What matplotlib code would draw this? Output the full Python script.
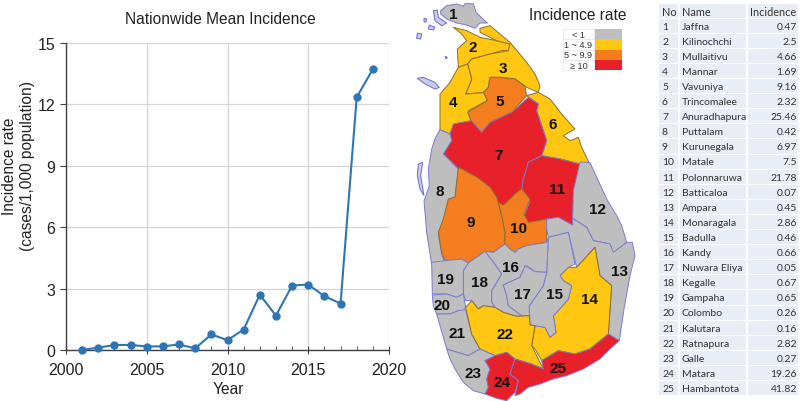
import matplotlib
matplotlib.use('Agg')
import matplotlib.pyplot as plt
from matplotlib.patches import Polygon, Rectangle

years = [2001, 2002, 2003, 2004, 2005, 2006, 2007, 2008, 2009, 2010,
         2011, 2012, 2013, 2014, 2015, 2016, 2017, 2018, 2019]
mean_incidence = [0.0, 0.12, 0.24, 0.25, 0.17, 0.18, 0.27, 0.08, 0.76, 0.48,
                  1.0, 2.7, 1.68, 3.15, 3.2, 2.63, 2.27, 12.35, 13.72]

names = ['Jaffna', 'Kilinochchi', 'Mullaitivu', 'Mannar', 'Vavuniya', 'Trincomalee',
         'Anuradhapura', 'Puttalam', 'Kurunegala', 'Matale', 'Polonnaruwa', 'Batticaloa',
         'Ampara', 'Monaragala', 'Badulla', 'Kandy', 'Nuwara Eliya', 'Kegalle', 'Gampaha',
         'Colombo', 'Kalutara', 'Ratnapura', 'Galle', 'Matara', 'Hambantota']
incidence = ['0.47', '2.5', '4.66', '1.69', '9.16', '2.32', '25.46', '0.42', '6.97', '7.5',
             '21.78', '0.07', '0.45', '2.86', '0.46', '0.66', '0.05', '0.67', '0.65', '0.26',
             '0.16', '2.82', '0.27', '19.26', '41.82']

legend_labels = ['< 1', '1 ~ 4.9', '5 ~ 9.9', '≥ 10']
legend_colors = ['#BEBEBE', '#FFC612', '#F47D20', '#E8202A']

# district outlines at 3x (first lot y from 0, second lot y from 200)
top = {
    1: [(122, 35), (140, 20), (170, 15), (190, 22), (195, 14), (220, 14), (228, 40), (262, 72), (240, 72), (225, 88),
        (200, 78), (170, 72), (140, 60), (122, 45)],
    2: [(160, 85), (200, 95), (240, 115), (290, 125), (330, 135), (325, 155), (305, 155), (270, 165), (215, 180),
        (205, 195), (175, 205), (172, 150), (200, 125), (185, 105)],
    3: [(240, 88), (270, 80), (330, 130), (380, 190), (405, 225), (420, 260), (415, 280), (380, 265), (345, 240),
        (300, 235), (270, 235), (262, 280), (197, 285), (215, 240), (203, 195), (215, 180), (270, 165), (325, 155),
        (330, 135), (290, 125), (240, 100)],
    4: [(203, 195), (215, 240), (197, 285), (262, 280), (262, 305), (205, 335), (215, 365), (165, 375), (150, 405),
        (120, 392), (120, 285), (150, 250), (175, 205)],
    5: [(270, 235), (300, 235), (345, 240), (375, 262), (380, 290), (335, 340), (270, 370), (245, 400), (220, 385),
        (203, 340), (262, 305), (250, 280), (265, 265)],
    6: [(380, 290), (415, 280), (450, 300), (485, 345), (525, 390), (490, 410), (510, 425), (535, 415), (545, 445),
        (570, 497), (540, 495), (480, 480), (425, 470), (440, 425), (410, 335), (415, 315)],
    7: [(385, 295), (415, 315), (410, 335), (440, 425), (425, 470), (385, 490), (370, 540), (365, 575), (345, 590),
        (330, 606), (320, 618), (300, 620), (290, 600), (270, 570), (230, 540), (175, 510), (130, 465), (160, 375),
        (215, 365), (245, 400), (270, 370), (335, 340)],
    8: [(120, 392), (150, 405), (155, 425), (130, 465), (175, 510), (165, 600), (145, 606), (130, 666), (115, 706),
        (125, 766), (135, 791), (95, 796), (80, 700), (72, 606), (88, 560), (85, 510), (95, 450), (105, 420)],
    11: [(425, 470), (480, 480), (540, 495), (535, 550), (520, 606), (518, 684), (475, 661), (440, 666), (385, 676),
         (372, 651), (390, 606), (365, 575), (370, 540), (385, 490)],
}
bottom = {
    9: [(145, 0), (165, -6), (175, -96), (230, -66), (270, -36), (290, -6), (295, 10), (305, 50), (315, 100),
        (315, 135), (280, 160), (255, 157), (205, 192), (185, 180), (135, 185), (125, 160), (115, 100), (130, 60)],
    10: [(295, 10), (310, 18), (330, 0), (345, -16), (365, -31), (390, 0), (372, 45), (385, 70), (440, 60), (440, 130),
         (380, 140), (355, 150), (345, 160), (330, 150), (315, 135), (315, 100), (305, 50)],
    12: [(520, -25), (540, -111), (570, -109), (620, 0), (650, 50), (665, 80), (680, 130), (640, 165), (630, 135),
         (580, 125), (560, 85), (518, 58)],
    13: [(518, 58), (560, 85), (580, 125), (630, 135), (640, 160), (680, 130), (697, 130), (705, 170), (690, 230),
         (672, 330), (658, 425), (625, 405), (635, 260), (600, 230), (585, 145), (530, 205), (505, 100), (445, 115),
         (440, 90), (440, 60), (475, 55), (518, 78)],
    14: [(585, 145), (600, 230), (635, 260), (625, 405), (570, 450), (525, 465), (475, 455), (425, 485), (405, 450),
         (395, 440), (405, 380), (435, 385), (450, 415), (468, 400), (460, 350), (470, 340), (505, 300), (515, 260),
         (490, 245), (480, 230), (505, 205), (530, 205)],
    15: [(445, 115), (505, 100), (525, 195), (505, 205), (480, 230), (490, 245), (515, 260), (505, 300), (470, 340),
         (460, 350), (468, 400), (450, 415), (435, 385), (390, 378), (388, 320), (430, 260), (440, 220)],
    16: [(255, 157), (280, 160), (315, 135), (330, 150), (345, 160), (355, 150), (380, 140), (440, 130), (445, 115),
         (440, 220), (405, 218), (380, 200), (370, 215), (360, 235), (310, 258), (320, 290), (325, 320), (345, 335),
         (365, 350), (350, 352), (310, 340), (285, 325), (275, 310), (275, 275), (305, 225), (280, 190)],
    17: [(375, 200), (405, 218), (440, 220), (430, 260), (388, 320), (388, 350), (365, 350), (345, 335), (325, 320),
         (320, 290), (310, 258), (360, 235)],
    18: [(190, 215), (205, 192), (255, 157), (280, 190), (305, 225), (275, 275), (275, 310), (285, 325), (250, 320),
         (235, 330), (215, 305), (197, 305), (190, 285)],
    19: [(95, 190), (135, 185), (185, 180), (205, 192), (190, 215), (190, 285), (170, 295), (140, 285), (97, 285)],
    20: [(97, 288), (140, 285), (170, 295), (190, 285), (197, 325), (190, 340), (175, 335), (150, 345), (110, 345),
         (100, 320)],
    21: [(110, 345), (150, 345), (175, 335), (197, 332), (215, 405), (240, 450), (205, 470), (140, 450)],
    22: [(197, 325), (215, 305), (235, 330), (250, 320), (285, 325), (310, 340), (350, 352), (388, 350), (390, 378),
         (405, 380), (395, 440), (405, 460), (430, 510), (395, 495), (345, 480), (320, 460), (285, 470), (240, 450),
         (215, 405)],
    23: [(140, 450), (205, 470), (240, 450), (285, 470), (255, 485), (270, 510), (260, 540), (265, 565), (255, 585),
         (220, 575), (190, 550), (165, 510), (150, 480)],
    24: [(285, 470), (320, 460), (345, 480), (330, 525), (355, 545), (345, 580), (320, 605), (290, 598), (255, 585),
         (265, 565), (260, 540), (270, 510), (255, 485)],
    25: [(345, 480), (395, 495), (430, 510), (425, 485), (475, 455), (525, 465), (570, 450), (625, 405), (658, 425),
         (630, 450), (600, 480), (550, 510), (500, 530), (460, 540), (420, 555), (385, 565), (360, 585), (345, 590),
         (355, 545), (330, 525)],
}
islands = [
    [(52, 238), (70, 235), (105, 250), (118, 265), (105, 270), (75, 255)],
    [(100, 35), (112, 33), (115, 55), (140, 72), (125, 80), (105, 65)],
    [(88, 78), (105, 85), (100, 93), (85, 90)],
    [(52, 102), (65, 105), (62, 120), (50, 118)],
    [(72, 58), (80, 60), (78, 70), (72, 68)],
    [(135, 172), (142, 175), (138, 180)],
    [(55, 495), (68, 490), (62, 530), (72, 590), (60, 570), (52, 530)],
]

# label positions in the same 3x zoom coordinates
top_labels = {1: (161, 46), 2: (217, 144), 3: (310, 207), 4: (158, 309), 5: (298, 307), 6: (458, 375),
              7: (296, 468), 8: (118, 575), 11: (470, 570)}
bottom_labels = {9: (213, 70), 10: (355, 88), 12: (593, 29), 13: (660, 216), 14: (568, 299), 15: (463, 286),
                 16: (331, 204), 17: (366, 286), 18: (238, 248), 19: (137, 240), 20: (127, 317), 21: (172, 401),
                 22: (316, 406), 23: (218, 523), 24: (305, 548), 25: (475, 506)}

district_color = {1: 0, 2: 1, 3: 1, 4: 1, 5: 2, 6: 1, 7: 3, 8: 0, 9: 2, 10: 2, 11: 3, 12: 0, 13: 0, 14: 1, 15: 0,
                  16: 0, 17: 0, 18: 0, 19: 0, 20: 0, 21: 0, 22: 1, 23: 0, 24: 3, 25: 3}

plt.rcParams['font.family'] = ['Liberation Sans', 'DejaVu Sans']

fig = plt.figure(figsize=(8, 4.02), dpi=100)


def to_px(pts, y0):
    return [(400 + x / 3, y0 + y / 3) for x, y in pts]


# line chart
ax = fig.add_axes([66 / 800, 1 - 351 / 402, 323 / 800, 307 / 402])
ax.plot(years, mean_incidence, color='#2E75B6', lw=1.5, marker='o', ms=5, clip_on=False, zorder=3)
ax.set_xlim(2000, 2020)
ax.set_ylim(0, 15)
ax.set_xticks([2000, 2005, 2010, 2015, 2020])
ax.set_xticks(range(2000, 2020), minor=True)
ax.set_yticks([0, 3, 6, 9, 12, 15])
ax.grid(True, color='#D4D4D4', lw=0.9)
ax.set_axisbelow(True)
for s in ['top', 'right']:
    ax.spines[s].set_visible(False)
for s in ['left', 'bottom']:
    ax.spines[s].set_color('#404040')
    ax.spines[s].set_linewidth(1.0)
ax.tick_params(axis='both', which='major', labelsize=11.5, length=4.5, color='#404040', labelcolor='#222222', pad=3)
ax.tick_params(axis='x', which='minor', direction='in', length=3, color='#404040')
ax.tick_params(axis='x', which='major', direction='inout', length=6, pad=6)
ax.tick_params(axis='y', direction='out')
fig.text(220 / 800, 1 - 20 / 402, 'Nationwide Mean Incidence', fontsize=11.2, ha='center', va='center', color='#222222')
fig.text(228 / 800, 1 - 390 / 402, 'Year', fontsize=11.2, ha='center', va='center', color='#222222')
fig.text(18.5 / 800, 1 - 166 / 402, 'Incidence rate\n(cases/1,000 population)', fontsize=11.2, rotation=90,
         ha='center', va='center', color='#222222', linespacing=1.3)

# map and table share a pixel axes
m = fig.add_axes([0, 0, 1, 1], zorder=5)
m.set_xlim(0, 800)
m.set_ylim(402, 0)
m.axis('off')
m.patch.set_alpha(0)

for pts in islands:
    m.add_patch(Polygon(to_px(pts, 0), closed=True, fc='#C8CCE8', ec='#6A6AD0', lw=0.7))
for shapes, y0 in [(top, 0), (bottom, 200)]:
    for k, pts in shapes.items():
        c = district_color[k]
        edge = '#7A7AD0' if c in (0, 3) else '#8A6E30'
        m.add_patch(Polygon(to_px(pts, y0), closed=True, fc=legend_colors[c], ec=edge, lw=0.7, joinstyle='round'))
for labels, y0 in [(top_labels, 0), (bottom_labels, 200)]:
    for k, (x, y) in labels.items():
        m.text(400 + x / 3, y0 + y / 3, str(k), fontsize=11, fontweight='bold', ha='center', va='center',
               color='#111111')

m.text(578, 15.5, 'Incidence rate', fontsize=11.2, ha='center', va='center', color='#222222')
for i, (lab, col) in enumerate(zip(legend_labels, legend_colors)):
    yy = 30 + i * 10.3
    m.add_patch(Rectangle((563, yy), 31, 10.3, fc='white', ec='#E4E4E4', lw=0.5))
    m.add_patch(Rectangle((594.5, yy), 27, 10.3, fc=col, ec='none'))
    m.text(578.5, yy + 5.2, lab, fontsize=6.6, ha='center', va='center', color='#333333')

# table
col_edges = [(659, 678), (680, 746), (748, 798)]
row_h = 15.1
for r in range(26):
    yy = 4.5 + r * row_h
    for x0, x1 in col_edges:
        m.add_patch(Rectangle((x0, yy), x1 - x0, row_h - 1, fc='#E9EDF5', ec='none'))
tfont = ['Lato', 'DejaVu Sans']
m.text(662, 12, 'No', fontsize=7.8, family=tfont, va='center', color='#333333')
m.text(682, 12, 'Name', fontsize=7.8, family=tfont, va='center', color='#333333')
m.text(796, 12, 'Incidence', fontsize=7.8, family=tfont, va='center', ha='right', color='#333333')
for i, (n, v) in enumerate(zip(names, incidence)):
    yy = 12 + (i + 1) * row_h
    m.text(662, yy, str(i + 1), fontsize=7.5, family=tfont, va='center', color='#333333')
    m.text(682, yy, n, fontsize=7.5, family=tfont, va='center', color='#333333')
    m.text(797, yy, v, fontsize=7.5, family=tfont, va='center', ha='right', color='#333333')

fig.savefig('out.png', dpi=100)
